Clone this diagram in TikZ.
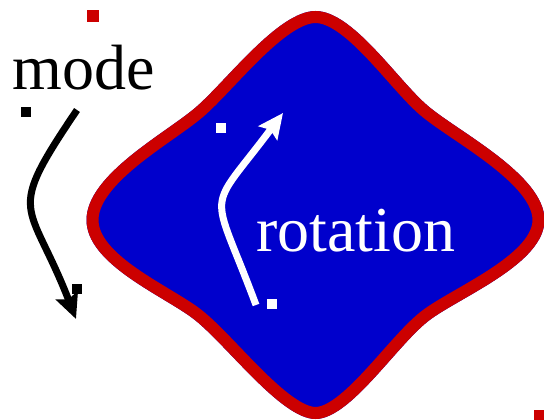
\documentclass[tikz,border=0pt]{standalone}
\usepackage{fontspec}
\setmainfont{Liberation Serif}
\usetikzlibrary{arrows.meta}
\definecolor{shapeblue}{RGB}{0,0,204}
\definecolor{shapered}{RGB}{204,0,0}
\newcommand\blobpath{(315.5,11)
 .. controls (353,11) and (397.5,80.1) .. (428,106)
 .. controls (458.5,131.9) and (544.5,175) .. (544.5,220)
 .. controls (544.5,263) and (463.5,295.6) .. (431,319)
 .. controls (398.5,342.4) and (351,419) .. (315.5,419)
 .. controls (280,419) and (223.5,340.4) .. (191,317)
 .. controls (158.5,293.6) and (86.5,263) .. (86.5,220)
 .. controls (86.5,175) and (164.5,133.9) .. (195,108)
 .. controls (225.5,82.1) and (278,11) .. (315.5,11) -- cycle}
\begin{document}
\begin{tikzpicture}[x=1pt,y=-1pt,
  sq/.style={inner sep=0pt, minimum size=10pt, draw=none},
  arr/.style={line width=7pt, -{Stealth[length=25pt,width=23pt,inset=4pt]}},
  lbl/.style={inner sep=0pt, anchor=base west, font=\fontsize{64}{76}\selectfont}]
\useasboundingbox (0,0) rectangle (544,420);
\begin{scope}
\clip \blobpath;
\fill[shapeblue] (0,0) rectangle (560,440);
\draw[shapered, line width=24pt] \blobpath;
\end{scope}
\node[sq, fill=shapered, minimum size=12pt] (r1) at (92.5,16) {};
\node[sq, fill=shapered, minimum size=12pt] (r2) at (540,416) {};
\node[sq, fill=black] (k1) at (26,112) {};
\node[sq, fill=black] (k2) at (76.5,288.5) {};
\node[sq, fill=white] (w1) at (221,128) {};
\node[sq, fill=white] (w2) at (271.5,304) {};
\node[lbl] (mode) at (12.5,90) {mode};
\node[lbl, text=white] (rot) at (256,251) {rotation};
\coordinate (ms) at (77,110);
\coordinate (me) at (76,319);
\draw[arr, black] (ms) .. controls (4,218) and (29,198) .. (me);
\coordinate (rs) at (256,305);
\coordinate (re) at (283,113);
\draw[arr, white] (rs) .. controls (210.5,182.8) and (205,217) .. (re);
\end{tikzpicture}
\end{document}
